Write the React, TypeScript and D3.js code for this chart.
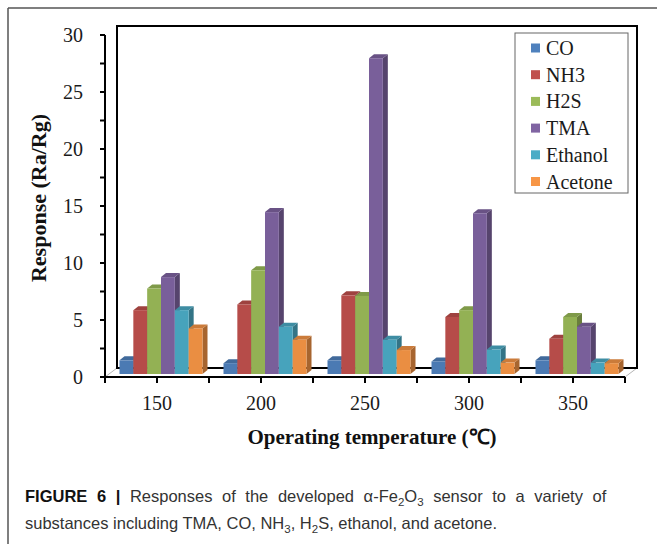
import React from "react";
import * as d3 from "d3";

// Operating temperatures (℃) on the category axis
const temperatures = ["150", "200", "250", "300", "350"];

// Target gases, in legend / cluster order
const gases = ["CO", "NH3", "H2S", "TMA", "Ethanol", "Acetone"];

// Response (Ra/Rg) of each gas at each operating temperature
const coResponse = [1.2, 0.95, 1.2, 1.1, 1.2];
const nh3Response = [5.6, 6.1, 6.9, 5.0, 3.1];
const h2sResponse = [7.5, 9.1, 6.85, 5.6, 5.0];
const tmaResponse = [8.5, 14.2, 27.7, 14.1, 4.15];
const ethanolResponse = [5.6, 4.15, 3.0, 2.15, 1.0];
const acetoneResponse = [4.0, 3.0, 2.1, 1.0, 0.95];

const gasColors = ["#4F81BD", "#C0504D", "#9BBB59", "#8064A2", "#4BACC6", "#F79646"];

// Value-axis ticks (marks every 2.5, labels every 5)
const yTickMarks = [0, 2.5, 5, 7.5, 10, 12.5, 15, 17.5, 20, 22.5, 25, 27.5, 30];
const yTickLabels = [0, 5, 10, 15, 20, 25, 30];

const responses = [coResponse, nh3Response, h2sResponse, tmaResponse, ethanolResponse, acetoneResponse];

const W = 657;
const H = 544;

// plot geometry (front plane of the axes)
const left = 105;
const right = 625;
const bottom = 377;
const top = 35;
// oblique depth of the whole plot box
const wallDX = 12;
const wallDY = -9;
// bars stand a third of the way back, and have their own small depth
const barShiftX = 4;
const barShiftY = -3;
const barDX = 5;
const barDY = -4;
const groupWidth = 83;

const serif = "'Liberation Serif', 'Times New Roman', Times, serif";
const sans = "'Liberation Sans', Arial, Helvetica, sans-serif";

export default function App() {
  const x = d3.scaleBand<string>().domain(temperatures).range([left, right]).paddingInner(0).paddingOuter(0);
  const y = d3.scaleLinear().domain([0, 30]).range([bottom, top]);
  const band = x.bandwidth();
  const barW = groupWidth / gases.length;

  const xTickPositions = d3.range(0, temperatures.length * 2 + 1).map((k) => left + (band / 2) * k);

  const bars: React.ReactNode[] = [];
  temperatures.forEach((t, i) => {
    gases.forEach((g, j) => {
      const v = responses[j][i];
      const base = d3.color(gasColors[j])!;
      const front = base.darker(0.15).formatHex();
      const topC = base.darker(0.55).formatHex();
      const side = base.darker(1.1).formatHex();
      const x0 = (x(t) as number) + barShiftX + (band - groupWidth) / 2 + j * barW;
      const x1 = x0 + barW;
      const yT = y(v) + barShiftY;
      const yB = y(0) + barShiftY;
      bars.push(
        <g key={`${t}-${g}`}>
          <polygon
            points={`${x1},${yT} ${x1 + barDX},${yT + barDY} ${x1 + barDX},${yB + barDY} ${x1},${yB}`}
            fill={side}
          />
          <polygon
            points={`${x0},${yT} ${x0 + barDX},${yT + barDY} ${x1 + barDX},${yT + barDY} ${x1},${yT}`}
            fill={topC}
          />
          <rect x={x0} y={yT} width={barW} height={yB - yT} fill={front} />
        </g>
      );
    });
  });

  const legendX = 515;
  const legendY = 33;
  const legendRow = 26.7;

  return (
    <svg
      width={W}
      height={H}
      viewBox={`0 0 ${W} ${H}`}
      style={{ position: "absolute", left: 0, top: 0, background: "#fff" }}
    >
      <rect x={0} y={0} width={W} height={H} fill="#fff" />
      {/* figure frame */}
      <line x1={8} y1={8} x2={W} y2={8} stroke="#555" strokeWidth={1.5} />
      <line x1={8} y1={8} x2={8} y2={H} stroke="#555" strokeWidth={1.5} />

      {/* floor edges */}
      <line x1={left} y1={bottom} x2={left + wallDX} y2={bottom + wallDY} stroke="#b5b5b5" strokeWidth={1} />
      <line x1={right} y1={bottom} x2={right + wallDX} y2={bottom + wallDY} stroke="#b5b5b5" strokeWidth={1} />

      {/* back wall */}
      <rect
        x={left + wallDX}
        y={top + wallDY}
        width={right - left}
        height={bottom - top}
        fill="none"
        stroke="#000"
        strokeWidth={2}
      />

      {bars}

      {/* value axis */}
      <line x1={left} y1={y(30)} x2={left} y2={bottom} stroke="#000" strokeWidth={2} />
      {yTickMarks.map((v) => (
        <line key={`yt${v}`} x1={left - 5} y1={y(v)} x2={left} y2={y(v)} stroke="#000" strokeWidth={2} />
      ))}
      {yTickLabels.map((v) => (
        <text
          key={`yl${v}`}
          x={83}
          y={y(v)}
          dy="0.35em"
          textAnchor="end"
          fontFamily={serif}
          fontSize={20}
          fill="#1a1a1a"
        >
          {v}
        </text>
      ))}

      {/* category axis */}
      <line x1={left - 1} y1={bottom} x2={right} y2={bottom} stroke="#000" strokeWidth={2} />
      {xTickPositions.map((px, k) => (
        <line key={`xt${k}`} x1={px} y1={bottom} x2={px} y2={bottom + 6} stroke="#000" strokeWidth={2} />
      ))}
      {temperatures.map((t) => (
        <text
          key={`xl${t}`}
          x={(x(t) as number) + band / 2}
          y={410}
          textAnchor="middle"
          fontFamily={serif}
          fontSize={20}
          fill="#1a1a1a"
        >
          {t}
        </text>
      ))}

      {/* axis titles */}
      <text
        transform="translate(46,198) rotate(-90)"
        textAnchor="middle"
        fontFamily={serif}
        fontSize={22}
        fontWeight="bold"
        fill="#111"
      >
        Response (Ra/Rg)
      </text>
      <text x={372} y={444} textAnchor="middle" fontFamily={serif} fontSize={21} fontWeight="bold" fill="#111">
        Operating temperature (℃)
      </text>

      {/* legend */}
      <rect
        x={legendX}
        y={legendY}
        width={113}
        height={160}
        fill="#fff"
        stroke="#666"
        strokeWidth={1}
      />
      {gases.map((g, j) => {
        const cy = 48 + j * legendRow;
        return (
          <g key={`lg${g}`}>
            <rect x={531} y={cy - 4.5} width={9} height={9} fill={gasColors[j]} />
            <text x={546} y={cy} dy="0.35em" fontFamily={serif} fontSize={20} fill="#1a1a1a">
              {g}
            </text>
          </g>
        );
      })}

      {/* caption: first line justified to the column width, last line ragged */}
      <text x={25} y={502} fontFamily={sans} fontSize={16.5} fill="#333" wordSpacing={5}>
        <tspan fontWeight="bold" fill="#111">
          FIGURE 6 |
        </tspan>
        <tspan> Responses of the developed α-Fe</tspan>
        <tspan fontSize={11.5} dy={4}>
          2
        </tspan>
        <tspan dy={-4}>O</tspan>
        <tspan fontSize={11.5} dy={4}>
          3
        </tspan>
        <tspan dy={-4}> sensor to a variety of</tspan>
      </text>
      <text x={25} y={529} fontFamily={sans} fontSize={16.5} fill="#333">
        <tspan>substances including TMA, CO, NH</tspan>
        <tspan fontSize={11.5} dy={4}>
          3
        </tspan>
        <tspan dy={-4}>, H</tspan>
        <tspan fontSize={11.5} dy={4}>
          2
        </tspan>
        <tspan dy={-4}>S, ethanol, and acetone.</tspan>
      </text>
    </svg>
  );
}
